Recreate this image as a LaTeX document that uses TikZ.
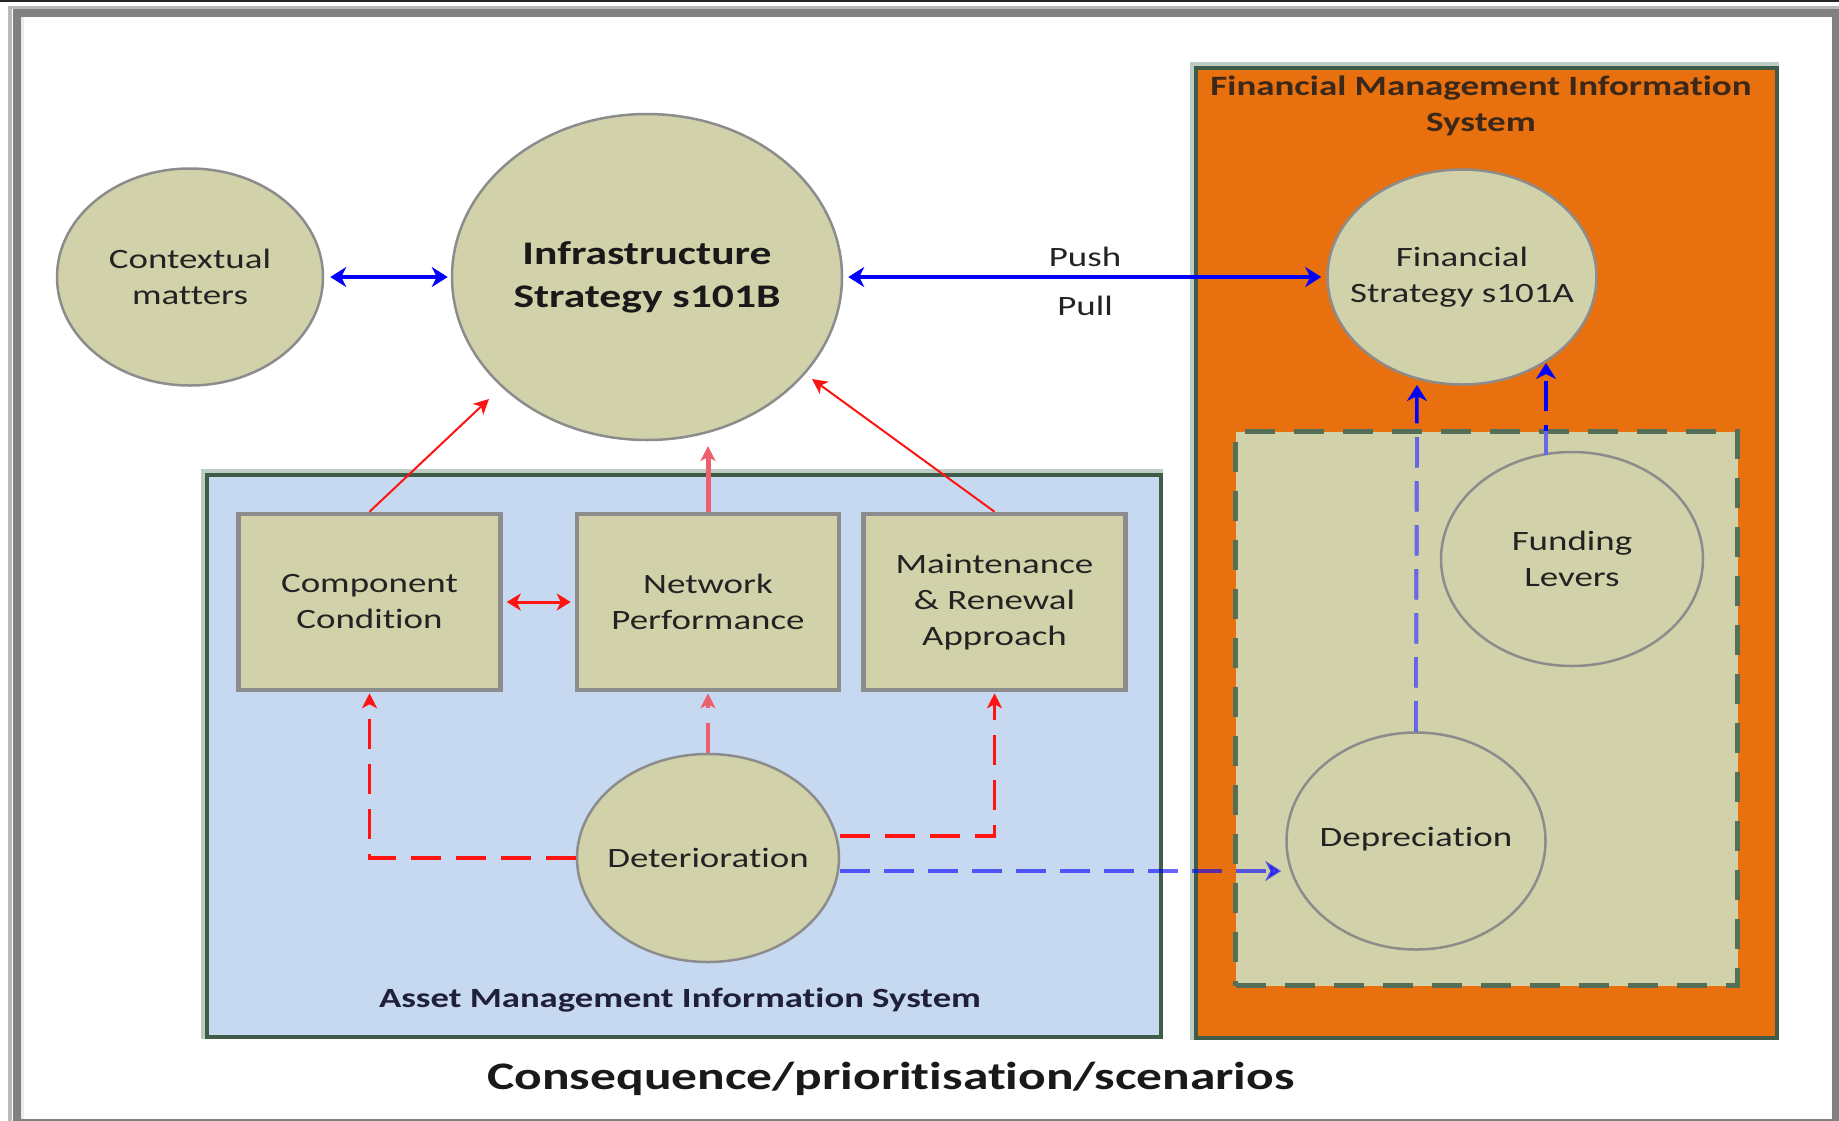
\documentclass[tikz,border=0pt]{standalone}
\usepackage{fontspec}
\setmainfont{Carlito}[FakeStretch=1.32, Ligatures=NoCommon]
\usetikzlibrary{arrows.meta,shapes.geometric}

\definecolor{khaki}{RGB}{210,210,170}
\definecolor{nodeedge}{RGB}{140,140,140}
\definecolor{amisfill}{RGB}{198,217,240}
\definecolor{fmisfill}{RGB}{232,112,14}
\definecolor{boxedge}{RGB}{62,92,72}
\definecolor{boxhalo}{RGB}{190,205,195}
\definecolor{framegray}{RGB}{128,128,128}
\definecolor{framelight}{RGB}{185,185,185}
\definecolor{linkred}{RGB}{255,20,20}
\definecolor{linkpink}{RGB}{236,96,110}
\definecolor{linkblue}{RGB}{0,0,255}
\definecolor{paleblue}{RGB}{105,105,232}
\definecolor{textdark}{RGB}{35,35,35}
\definecolor{fmistext}{RGB}{60,40,25}

\begin{document}
\begin{tikzpicture}[x=1pt,y=-1pt,
  labelfont/.style={font=\fontsize{28}{36}\selectfont},
  oval/.style={ellipse, draw=nodeedge, line width=2.5pt, fill=khaki,
    inner sep=0pt},
  ovaltext/.style={align=center, text=textdark, labelfont, inner sep=0pt},
  card/.style={rectangle, draw=nodeedge, line width=4.5pt, fill=khaki,
    inner sep=0pt, align=center, text=textdark, labelfont,
    minimum width=262pt, minimum height=176pt},
  panel/.style={rectangle, draw=boxedge, line width=4pt, inner sep=0pt,
    anchor=north west},
  bluelink/.style={linkblue, line width=4pt},
  redlink/.style={linkred, line width=2pt},
  reddash/.style={linkred, line width=3.5pt, dash pattern=on 30pt off 15pt},
  bluedash/.style={linkblue, line width=4pt, dash pattern=on 30pt off 14pt},
  bigtip/.style={-{Stealth[length=16pt,width=20pt,inset=5pt]}},
  bothtips/.style={{Stealth[length=16pt,width=20pt,inset=5pt]}-{Stealth[length=16pt,width=20pt,inset=5pt]}},
  smalltip/.style={-{Stealth[length=15pt,width=15pt,inset=4pt]}},
  smallboth/.style={{Stealth[length=14pt,width=17pt,inset=4pt]}-{Stealth[length=14pt,width=17pt,inset=4pt]}}
]
\useasboundingbox (0,0) rectangle (1839,1120);
\clip (0,0) rectangle (1839,1120);
\fill[white] (0,0) rectangle (1839,1120);

% page frame
\fill[black!85] (0,0) rectangle (1839,1.6);
\draw[framelight, line width=3.5pt] (10,7.5) rectangle (1850,1135);
\draw[framegray, line width=8pt] (16.5,12.5) rectangle (1836,1123);
\draw[black!8, line width=3pt] (22.5,16.5) -- (22.5,1119);

% system panels
\draw[boxhalo, line width=8pt] (205,473) rectangle (1159,1035);
\node[panel, fill=amisfill, minimum width=954pt, minimum height=562pt] (amis) at (205,473) {};
\draw[boxhalo, line width=8pt] (1194,66) rectangle (1775,1036);
\node[panel, fill=fmisfill, minimum width=581pt, minimum height=970pt] (fmis) at (1194,66) {};
\node[panel, fill=khaki, draw=boxedge!85!khaki, line width=5pt, dash pattern=on 30pt off 19pt,
  minimum width=502pt, minimum height=554pt] (funds) at (1233,429) {};

% panel titles
\node[font=\bfseries\fontsize{28}{36}\selectfont, text=fmistext, align=center] (fmistitle)
  at (1481,106) {Financial Management Information\\System};
\node[font=\bfseries\fontsize{27.8}{34}\selectfont, text=textdark!90!blue] (amistitle)
  at (680,1000) {Asset Management Information System};
\node[font=\bfseries\fontsize{39}{48}\selectfont, text=black!90] (caption)
  at (891,1079) {Consequence/prioritisation/scenarios};

% strategy ellipses (shape first, wording laid over it)
\node[oval, minimum width=266pt, minimum height=217pt] (ctx) at (190,277) {};
\node[ovaltext] (ctxtext) at (ctx) {Contextual\\matters};
\node[oval, minimum width=390pt, minimum height=326pt] (infra) at (647,277) {};
\node[ovaltext, font=\bfseries\fontsize{33}{43}\selectfont, text=black!90] (infratext)
  at (infra) {Infrastructure\\Strategy s101B};
\node[oval, minimum width=269pt, minimum height=215pt] (fin) at (1462,277) {};
\node[ovaltext] (fintext) at (fin) {Financial\\Strategy s101A};
\node[oval, minimum width=262pt, minimum height=214pt] (fund) at (1572,559) {};
\node[ovaltext] (fundtext) at (fund) {Funding\\Levers};
\node[oval, minimum width=259pt, minimum height=217pt] (dep) at (1416,841) {};
\node[ovaltext] (deptext) at ([yshift=2pt]dep.center) {Depreciation};

% asset information boxes
\node[card] (comp) at (369.5,602) {Component\\Condition};
\node[card] (net) at (708,602) {Network\\Performance};
\node[card] (maint) at (994.5,602) {Maintenance\\\&\ Renewal\\Approach};
\node[oval, minimum width=262pt, minimum height=208pt] (det) at (708,858) {};
\node[ovaltext] (dettext) at (det) {Deterioration};

% push / pull link
\node[labelfont, text=textdark] (push) at (1085,257) {Push};
\node[labelfont, text=textdark] (pull) at (1085,306) {Pull};

% solid links
\draw[bluelink, bothtips, shorten <=6pt, shorten >=3pt] (ctx) -- (infra);
\draw[bluelink, bothtips, shorten <=5pt, shorten >=5pt] (infra) -- (fin);

\coordinate (infraSW) at (489,399);
\coordinate (infraS) at (708,446);
\coordinate (infraSE) at (812,379);
\draw[redlink, smalltip] (comp.north) -- (infraSW);
\draw[linkpink, line width=5pt, smalltip] (net.north) -- (infraS);
\draw[redlink, smalltip] (maint.north) -- (infraSE);
\draw[linkred, line width=3pt, smallboth, shorten <=4pt, shorten >=4pt] (comp.east) -- (net.west);

% deterioration feeds
\draw[reddash, smalltip, shorten >=1pt] (det.west) -| (comp.south);
\draw[reddash, linkpink, line width=4pt, smalltip, shorten >=1pt] (det.north) -- (net.south);
\coordinate (detR) at ([yshift=22pt]det.east);
\draw[reddash, smalltip, shorten >=1pt] (detR) -| (maint.south);

\coordinate (detB) at ([yshift=-13pt]det.east);
\draw[bluedash, opacity=0.6, bigtip, shorten >=4pt] (detB) -- (detB -| dep.west);

% funding feeds into the financial strategy
\coordinate (depUp) at (1417,385);
\coordinate (fundTop) at (1546,455);
\coordinate (finFoot) at (1546,363);
\draw[bluedash, line width=3.5pt, bigtip] (dep.north) -- (depUp);
\draw[bluedash, line width=3.5pt, bigtip] (fundTop) -- (finFoot);
\begin{scope}
  \clip (1235,431) rectangle (1733,981);
  \draw[bluedash, paleblue, line width=3.5pt] (dep.north) -- (depUp);
  \draw[bluedash, paleblue, line width=3.5pt] (fundTop) -- (finFoot);
\end{scope}
\end{tikzpicture}
\end{document}
